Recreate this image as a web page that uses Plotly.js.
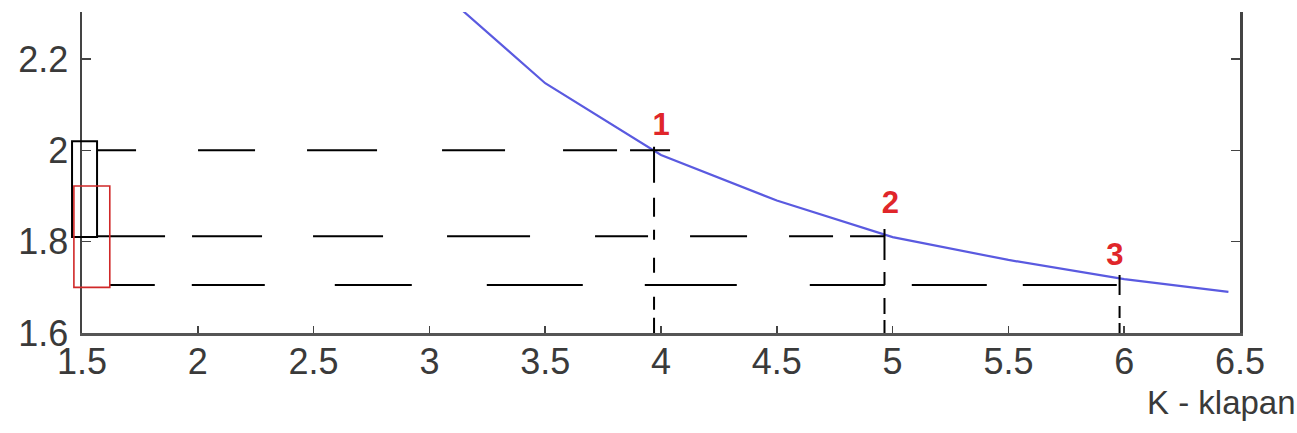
<!DOCTYPE html>
<html><head><meta charset="utf-8">
<script src="https://cdn.plot.ly/plotly-3.0.1.min.js"></script>
<style>html,body{margin:0;padding:0;background:#fff;overflow:hidden}#chart{width:1297px;height:433px}</style>
</head><body><div id="chart"></div>
<script>
// ---- data ----
const curveK = [3.0, 3.5, 4.0, 4.5, 5.0, 5.5, 6.0, 6.45];
const curveV = [2.37, 2.147, 1.99, 1.89, 1.81, 1.76, 1.718, 1.69];
const pointLabels = ['1', '2', '3'];
const pointK = [3.97, 4.965, 5.98];
const pointV = [2.0, 1.812, 1.705];
const guideStartK = [1.565, 1.565, 1.62];
const guideEndK = [4.04, 4.975, 5.98];
const labelK = [4.0, 4.99, 5.96];
const labelV = [2.05, 1.88, 1.766];
const blackBoxK = [1.457, 1.565];
const blackBoxV = [1.81, 2.02];
const redBoxK = [1.465, 1.62];
const redBoxV = [1.70, 1.922];
const xTickVals = [1.5, 2, 2.5, 3, 3.5, 4, 4.5, 5, 5.5, 6, 6.5];
const xTickText = ['1.5', '2', '2.5', '3', '3.5', '4', '4.5', '5', '5.5', '6', '6.5'];
const yTickVals = [1.6, 1.8, 2.0, 2.2];
const yTickText = ['1.6', '1.8', '2', '2.2'];
const xTitle = 'K - klapan';
const xRange = [1.5, 6.5];
const yRange = [1.6, 2.303];

// ---- styles ----
const hDash = [
  '39px,62px,57px,52px,70px,65px,63px,58px,54px,13px,40px',
  '68px,27px,70px,51px,70px,64px,83px,65px,53px,42px,57px,42px,44px,17px,35px',
  '45px,37px,73px,70px,77px,75px,96px,62px,92px,73px,75px,27px,75px,36px,94px'
];
const vDash = [
  '36px,15px,19px,13px,10px,18px,15px,24px,13px,8px,19px',
  '31px,12px,13px,13px,16px,6px,18px',
  '20px,11px,12px,5px,18px'
];
const vTopOffset = [0.008, 0.016, 0.022];
const FONT = '"Liberation Sans Narrow", "Arial Narrow", "Liberation Sans", Arial, sans-serif';

const traces = [];
// curve
traces.push({x: curveK, y: curveV, mode: 'lines', line: {color: '#5a5ae0', width: 2.2}, hoverinfo: 'skip'});
// guides
for (let i = 0; i < pointK.length; i++) {
  traces.push({x: [guideStartK[i], guideEndK[i]], y: [pointV[i], pointV[i]], mode: 'lines',
    line: {color: '#000', width: 2, dash: hDash[i]}, hoverinfo: 'skip'});
  traces.push({x: [pointK[i], pointK[i]], y: [pointV[i] + vTopOffset[i], yRange[0]], mode: 'lines',
    line: {color: '#000', width: 2, dash: vDash[i]}, hoverinfo: 'skip'});
}
// labels
traces.push({x: labelK, y: labelV, mode: 'text', text: pointLabels, cliponaxis: false,
  textposition: 'middle center',
  textfont: {family: FONT, size: 31, color: '#e0262a', weight: 'bold'}, hoverinfo: 'skip'});

function px(k) { return (k - xRange[0]) / (xRange[1] - xRange[0]); }
function py(v) { return (v - yRange[0]) / (yRange[1] - yRange[0]); }

const shapes = [
  {type: 'rect', xref: 'paper', yref: 'paper', x0: px(blackBoxK[0]), x1: px(blackBoxK[1]),
   y0: py(blackBoxV[0]), y1: py(blackBoxV[1]), line: {color: '#000', width: 2}, layer: 'above'},
  {type: 'rect', xref: 'paper', yref: 'paper', x0: px(redBoxK[0]), x1: px(redBoxK[1]),
   y0: py(redBoxV[0]), y1: py(redBoxV[1]), line: {color: '#d02828', width: 1.6}, layer: 'above'}
];

const axisFont = {family: FONT, size: 36, color: '#3a3a3a'};
const layout = {
  width: 1297, height: 433,
  margin: {l: 82, r: 57, t: 12, b: 100, pad: 0},
  paper_bgcolor: '#fff', plot_bgcolor: '#fff',
  showlegend: false,
  xaxis: {range: xRange, tickvals: xTickVals, ticktext: xTickText, ticks: 'inside', ticklen: 7,
    tickwidth: 1.5, tickcolor: '#444', showgrid: false, zeroline: false, showline: true,
    linecolor: '#555', linewidth: 3, tickfont: axisFont, ticklabelstandoff: -5},
  yaxis: {range: yRange, tickvals: yTickVals, ticktext: yTickText, ticks: 'inside', ticklen: 9,
    tickwidth: 1.5, tickcolor: '#444', showgrid: false, zeroline: false, showline: true,
    linecolor: '#444', linewidth: 2.5, mirror: 'ticks', tickfont: axisFont, ticklabelstandoff: 4},
  annotations: [{text: xTitle, xref: 'paper', yref: 'paper', x: 0.918, y: -0.215,
    xanchor: 'left', yanchor: 'middle', showarrow: false, font: {family: FONT, size: 33, color: '#3a3a3a'}}],
  shapes: shapes
};
Plotly.newPlot('chart', traces, layout, {staticPlot: true, displayModeBar: false});
</script></body></html>
